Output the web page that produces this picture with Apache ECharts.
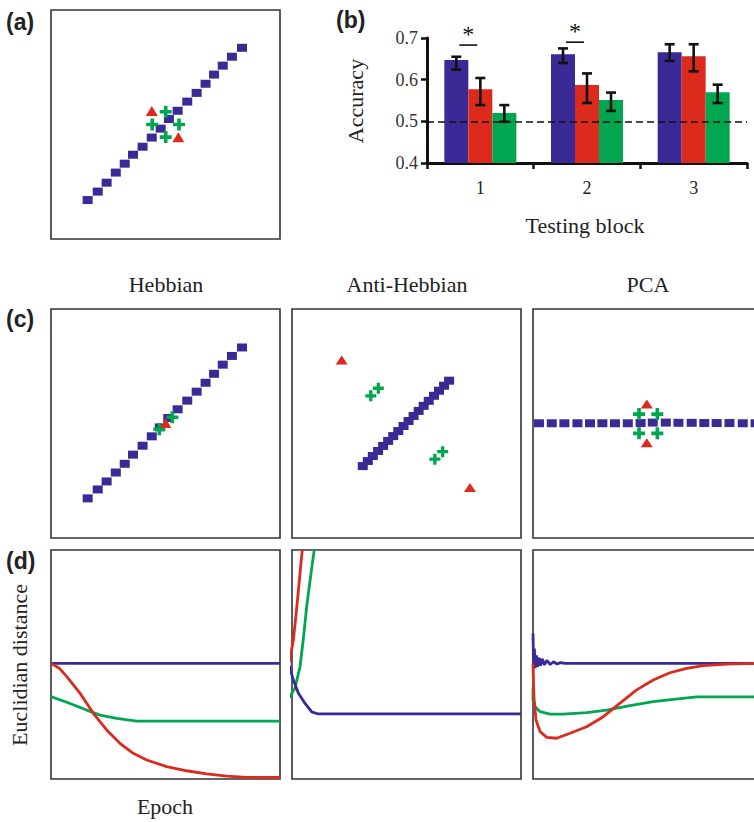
<!DOCTYPE html>
<html>
<head>
<meta charset="utf-8">
<script src="https://cdn.jsdelivr.net/npm/echarts@6/dist/echarts.min.js"></script>
<style>
html,body{margin:0;padding:0;background:#fff;}
#chart{width:754px;height:822px;overflow:hidden;}
</style>
</head>
<body>
<div id="chart"></div>
<script>
// ---------- DATA ----------
// (b) bar chart
const blocks = ['1', '2', '3'];
const accBlue = [0.647, 0.661, 0.666];
const accRed = [0.577, 0.587, 0.656];
const accGreen = [0.520, 0.551, 0.570];
const errBlueLow = [0.624, 0.640, 0.645];
const errBlueHigh = [0.655, 0.675, 0.685];
const errRedLow = [0.539, 0.544, 0.620];
const errRedHigh = [0.604, 0.615, 0.685];
const errGreenLow = [0.499, 0.525, 0.544];
const errGreenHigh = [0.539, 0.569, 0.588];
const chanceLevel = 0.5;
const sigMarks = [[0, 0.683], [1, 0.690]];
const yTicks = [0.4, 0.5, 0.6, 0.7];

// (a) representation
const aSquares = [[16.0,17.0],[20.4,20.7],[24.3,24.6],[28.3,29.0],[32.2,32.9],[35.8,36.8],[40.0,40.3],[44.0,44.3],[47.9,48.2],[51.5,52.4],[55.3,56.0],[59.5,60.0],[63.6,63.8],[67.5,67.8],[71.2,71.8],[75.0,75.7],[79.0,79.6],[83.4,83.5]];
const aTriangles = [[44.0,55.9],[55.6,44.4]];
const aPluses = [[50.1,55.6],[44.2,50.0],[55.9,50.0],[50.1,44.5]];

// (c) Hebbian
const cHebbSquares = [[16.0,17.3],[20.4,21.2],[24.3,24.7],[28.3,28.6],[32.2,32.4],[35.8,36.4],[40.0,40.3],[44.0,44.4],[47.5,48.3],[51.2,52.4],[55.3,56.2],[59.5,60.0],[63.6,63.9],[67.5,67.8],[71.2,71.7],[75.0,75.7],[79.0,79.5],[83.4,83.2]];
const cHebbTriangles = [[50.1,50.2]];
const cHebbPluses = [[47.3,47.5],[53.0,52.7]];

// (c) Anti-Hebbian
const cAntiSquares = [[30.9,31.4],[33.1,33.6],[35.3,35.8],[37.6,38.0],[39.8,40.2],[42.0,42.4],[44.2,44.5],[46.4,46.7],[48.7,48.9],[50.9,51.1],[53.1,53.3],[55.3,55.5],[57.5,57.7],[59.7,59.9],[62.0,62.1],[64.2,64.3],[66.4,66.5],[68.6,68.7]];
const cAntiTriangles = [[21.7,77.7],[77.7,22.1]];
const cAntiPluses = [[34.4,62.1],[37.7,65.4],[62.4,34.4],[65.8,37.7]];

// (c) PCA
const cPcaSquares = [[2.6,50.1],[8.2,50.1],[13.7,50.1],[19.4,50.1],[24.9,50.1],[30.3,50.1],[35.8,50.1],[41.4,50.1],[47.0,50.2],[52.3,50.4],[58.0,50.4],[63.5,50.3],[69.3,50.3],[74.8,50.2],[80.2,50.2],[85.8,50.2],[91.6,50.1],[97.2,50.1]];
const cPcaTriangles = [[49.7,58.5],[49.7,41.6]];
const cPcaPluses = [[46.3,54.1],[54.3,54.1],[46.3,45.7],[54.3,45.7]];

// (d) Euclidian distance over epochs
const dHebbBlue = [[0,50.5],[100,50.5]];
const dHebbRed = [[0,50.5],[3.5,48.5],[6.9,44.7],[12.7,37.4],[18.5,28.7],[24.3,21.4],[30.1,15.6],[35.9,11.2],[41.8,8.3],[50.5,5.4],[59.2,3.6],[68.0,2.2],[76.7,1.3],[85.4,0.7],[100,0.7]];
const dHebbGreen = [[0,36.0],[6.9,33.5],[15.6,30.1],[21.4,27.9],[28.7,26.5],[37.4,25.3],[100,25.3]];

const dAntiBlue = [[-1.3,49.8],[0.6,43.2],[2.8,37.4],[5.7,33.0],[8.6,29.3],[11.5,28.4],[100,28.4]];
const dAntiRed = [[-1.3,50.5],[0.6,60.7],[2.1,75.2],[3.1,85.5],[3.9,94.2],[4.5,100]];
const dAntiGreen = [[-1.3,35.5],[1.3,39.6],[3.5,49.0],[4.9,60.7],[6.4,75.2],[8.3,89.8],[9.7,100]];

const dPcaBlue = [[0,63.6],[0.3,48.0],[0.6,57.0],[1.0,48.5],[1.5,54.0],[2.0,49.0],[2.6,53.0],[3.3,49.5],[4.0,52.5],[5.0,49.8],[6.0,51.8],[7.5,50.0],[9.0,51.2],[10.5,50.2],[12.0,50.8],[14.0,50.5],[100,50.5]];
const dPcaRed = [[0,50.5],[0.4,35.9],[1.3,25.8],[3.1,20.7],[6.0,18.2],[10.3,17.8],[16.2,20.0],[23.4,22.8],[30.7,27.2],[38.0,33.1],[45.3,38.9],[52.5,43.2],[59.8,46.4],[67.1,48.3],[74.4,49.5],[84.6,50.2],[96.2,50.5],[100,50.5]];
const dPcaGreen = [[0,39.6],[0,34.5],[0.9,31.6],[3.1,29.4],[7.4,28.3],[13.2,28.3],[23.4,29.0],[32.1,30.1],[42.3,32.0],[52.5,33.8],[61.3,34.8],[71.5,35.9],[100,35.9]];

const panelTitles = ['Hebbian', 'Anti-Hebbian', 'PCA'];

// ---------- STYLE ----------
const BLUE = '#3a2a95';
const RED = '#dc2a1c';
const GREEN = '#00a650';
const SERIF = '"Liberation Serif", "Times New Roman", serif';
const SANS = '"Liberation Sans", Arial, sans-serif';
const BOX = 229;
const PLUS = 'path://M3.5,0H6.5V3.5H10V6.5H6.5V10H3.5V6.5H0V3.5H3.5Z';
const BAR_W = 24;

const chart = echarts.init(document.getElementById('chart'), null, {renderer: 'svg'});

// grids: 0 (a), 1 (b), 2-4 (c), 5-7 (d)
const boxPos = [
  [51, 10],
  null,
  [51, 309], [292, 309], [533, 309],
  [51, 550], [292, 550], [533, 550]
];
const grids = [];
const xAxes = [];
const yAxes = [];
boxPos.forEach((p, i) => {
  if (i === 1) {
    grids.push({left: 427, top: 38, width: 320, height: 125, show: false,
      outerBoundsMode: 'none', containLabel: false});
    xAxes.push({
      type: 'category', gridIndex: 1, data: blocks,
      axisLine: {lineStyle: {color: '#111', width: 3}},
      axisTick: {show: true, length: 6, lineStyle: {color: '#111', width: 2.5}},
      axisLabel: {fontFamily: SERIF, fontSize: 18, color: '#222', margin: 16}
    });
    yAxes.push({
      type: 'value', gridIndex: 1, min: 0.4, max: 0.7, interval: 0.1,
      axisLine: {show: true, lineStyle: {color: '#111', width: 3}},
      axisTick: {show: true, length: 6, lineStyle: {color: '#111', width: 2.5}},
      splitLine: {show: false},
      axisLabel: {fontFamily: SERIF, fontSize: 18, color: '#333', margin: 9,
        formatter: v => yTicks.find(t => Math.abs(t - v) < 1e-6).toFixed(1)}
    });
  } else {
    grids.push({left: p[0], top: p[1], width: BOX, height: BOX, show: true,
      outerBoundsMode: 'none', containLabel: false,
      borderColor: '#333', borderWidth: 1.6, backgroundColor: 'transparent'});
    xAxes.push({type: 'value', gridIndex: i, min: 0, max: 100, show: false});
    yAxes.push({type: 'value', gridIndex: i, min: 0, max: 100, show: false});
  }
});

function scatter(gi, data, symbol, size, color, z) {
  return {type: 'scatter', xAxisIndex: gi, yAxisIndex: gi, data: data,
    symbol: symbol, symbolSize: size, itemStyle: {color: color, opacity: 1},
    z: z, silent: true, clip: false};
}
function line(gi, data, color, z) {
  return {type: 'line', xAxisIndex: gi, yAxisIndex: gi, data: data,
    showSymbol: false, symbol: 'none', clip: false,
    lineStyle: {color: color, width: 2.8}, z: z, silent: true};
}

const series = [];
// (a)
series.push(scatter(0, aSquares, 'rect', [10, 8], BLUE, 2));
series.push(scatter(0, aPluses, PLUS, 12, GREEN, 3));
series.push(scatter(0, aTriangles, 'triangle', [12, 10], RED, 4));
// (c)
series.push(scatter(2, cHebbSquares, 'rect', [10, 8], BLUE, 2));
series.push(scatter(2, cHebbPluses, PLUS, 12, GREEN, 3));
series.push(scatter(2, cHebbTriangles, 'triangle', [11, 10], RED, 4));
series.push(scatter(3, cAntiSquares, 'rect', [10, 8], BLUE, 2));
series.push(scatter(3, cAntiPluses, PLUS, 11, GREEN, 3));
series.push(scatter(3, cAntiTriangles, 'triangle', [12, 9], RED, 4));
series.push(scatter(4, cPcaSquares, 'rect', [10, 8], BLUE, 2));
series.push(scatter(4, cPcaPluses, PLUS, 12, GREEN, 3));
series.push(scatter(4, cPcaTriangles, 'triangle', [12, 9], RED, 4));
// (d)
series.push(line(5, dHebbBlue, BLUE, 2));
series.push(line(5, dHebbGreen, GREEN, 3));
series.push(line(5, dHebbRed, RED, 4));
series.push(line(6, dAntiGreen, GREEN, 2));
series.push(line(6, dAntiRed, RED, 3));
series.push(line(6, dAntiBlue, BLUE, 4));
series.push(line(7, dPcaBlue, BLUE, 2));
series.push(line(7, dPcaGreen, GREEN, 3));
series.push(line(7, dPcaRed, RED, 4));

// (b) bars
const barSets = [
  [accBlue, BLUE, errBlueLow, errBlueHigh],
  [accRed, RED, errRedLow, errRedHigh],
  [accGreen, GREEN, errGreenLow, errGreenHigh]
];
barSets.forEach((s, k) => {
  const bar = {type: 'bar', xAxisIndex: 1, yAxisIndex: 1, data: s[0],
    barWidth: BAR_W, barGap: '0%', itemStyle: {color: s[1]}, silent: true, z: 2};
  if (k === 2) {
    bar.markLine = {silent: true, symbol: 'none', label: {show: false},
      lineStyle: {color: '#111', width: 1.6, type: [7, 4]},
      data: [{yAxis: chanceLevel}], z: 5, animation: false};
  }
  series.push(bar);
});
barSets.forEach((s, k) => {
  series.push({
    type: 'custom', xAxisIndex: 1, yAxisIndex: 1, silent: true, z: 6,
    data: blocks.map((b, i) => [i, s[2][i], s[3][i]]),
    renderItem: (params, api) => {
      const lo = api.coord([api.value(0), api.value(1)]);
      const hi = api.coord([api.value(0), api.value(2)]);
      const x = lo[0] + (k - 1) * BAR_W;
      const st = {stroke: '#111', lineWidth: 2.6};
      return {type: 'group', children: [
        {type: 'line', shape: {x1: x, y1: lo[1], x2: x, y2: hi[1]}, style: st},
        {type: 'line', shape: {x1: x - 5, y1: lo[1], x2: x + 5, y2: lo[1]}, style: st},
        {type: 'line', shape: {x1: x - 5, y1: hi[1], x2: x + 5, y2: hi[1]}, style: st}
      ]};
    }
  });
});
series.push({
  type: 'custom', xAxisIndex: 1, yAxisIndex: 1, silent: true, z: 6,
  data: sigMarks,
  renderItem: (params, api) => {
    const p = api.coord([api.value(0), api.value(1)]);
    return {type: 'group', children: [
      {type: 'line', shape: {x1: p[0] - 21, y1: p[1], x2: p[0] - 3, y2: p[1]},
        style: {stroke: '#111', lineWidth: 1.6}},
      {type: 'text', x: p[0] - 12, y: p[1] + 1,
        style: {text: '*', fontFamily: SERIF, fontSize: 24, fill: '#111',
          align: 'center', verticalAlign: 'bottom'}}
    ]};
  }
});

function txt(text, x, y, opts) {
  return Object.assign({type: 'text', x: x, y: y, silent: true,
    style: Object.assign({text: text, fontFamily: SERIF, fontSize: 22, fill: '#222',
      align: 'center', verticalAlign: 'middle'}, opts || {})});
}
const graphics = [
  txt('(a)', 6, 22, {fontFamily: SANS, fontWeight: 'bold', fontSize: 23, fill: '#222', align: 'left'}),
  txt('(b)', 336, 20, {fontFamily: SANS, fontWeight: 'bold', fontSize: 23, fill: '#222', align: 'left'}),
  txt('(c)', 6, 319, {fontFamily: SANS, fontWeight: 'bold', fontSize: 23, fill: '#222', align: 'left'}),
  txt('(d)', 6, 561, {fontFamily: SANS, fontWeight: 'bold', fontSize: 23, fill: '#222', align: 'left'}),
  txt(panelTitles[0], 166, 284),
  txt(panelTitles[1], 407, 284),
  txt(panelTitles[2], 648, 284),
  txt('Testing block', 585, 225),
  txt('Epoch', 165, 806)
];
const rotAcc = txt('Accuracy', 0, 0);
rotAcc.x = 355; rotAcc.y = 101; rotAcc.rotation = Math.PI / 2;
graphics.push(rotAcc);
const rotEuc = txt('Euclidian distance', 0, 0);
rotEuc.x = 19; rotEuc.y = 665; rotEuc.rotation = Math.PI / 2;
graphics.push(rotEuc);

chart.setOption({
  animation: false,
  grid: grids,
  xAxis: xAxes,
  yAxis: yAxes,
  series: series,
  graphic: {elements: graphics}
});
</script>
</body>
</html>
